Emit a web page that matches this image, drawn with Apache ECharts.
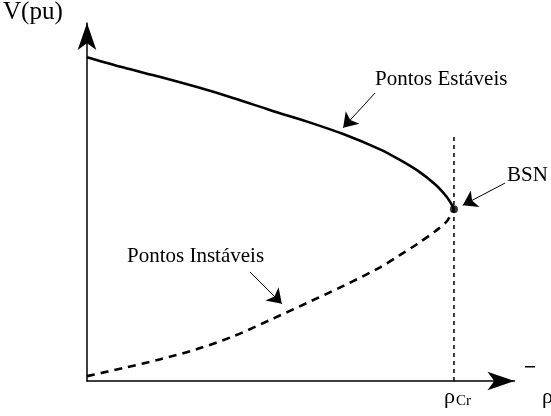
<!DOCTYPE html>
<html>
<head>
<meta charset="utf-8">
<script src="https://cdn.jsdelivr.net/npm/echarts@6/dist/echarts.min.js"></script>
<style>
  html, body { margin: 0; padding: 0; background: #fff; }
  #chart { width: 551px; height: 416px; }
</style>
</head>
<body>
<div id="chart"></div>
<script>
// Load parameter ρ (pu) and bus voltage V (pu) along the PV (nose) curve
const rhoStable   = [0, 0.1, 0.2, 0.3, 0.4, 0.5, 0.6, 0.7, 0.8, 0.85, 0.9, 0.95, 0.98, 0.995, 1.0];
const vStable     = [0.995, 0.963, 0.934, 0.903, 0.869, 0.832, 0.797, 0.758, 0.711, 0.681, 0.647, 0.603, 0.566, 0.540, 0.528];
const rhoUnstable = [0, 0.1, 0.2, 0.3, 0.4, 0.5, 0.6, 0.7, 0.8, 0.85, 0.9, 0.95, 0.98, 1.0];
const vUnstable   = [0.015, 0.040, 0.067, 0.098, 0.138, 0.188, 0.240, 0.293, 0.350, 0.385, 0.421, 0.461, 0.490, 0.528];

// Saddle-node bifurcation (BSN) point and the critical-load marker
const rhoCr = 1.0;
const vCr = 0.528;
const crLineTop = 0.762;

// Annotation arrows: [from, to] in (ρ, V)
const arrowStable   = [[0.785, 0.885], [0.698, 0.778]];
const arrowUnstable = [[0.444, 0.335], [0.531, 0.237]];
const arrowBSN      = [[1.139, 0.608], [1.024, 0.540]];

const SERIF = '"Liberation Serif", "Times New Roman", serif';

const zip = (xs, ys) => xs.map((x, i) => [x, ys[i]]);

const chart = echarts.init(document.getElementById('chart'), null, { renderer: 'canvas' });

const axisLine = {
  show: true,
  symbol: ['none', 'arrow'],
  symbolSize: [14, 27],
  lineStyle: { color: '#000', width: 1.5 }
};

chart.setOption({
  animation: false,
  backgroundColor: '#fff',
  grid: { left: 87, right: 36.5, top: 23, bottom: 35 },
  xAxis: {
    type: 'value', min: 0, max: 1.165,
    axisLine: axisLine,
    axisTick: { show: false }, axisLabel: { show: false }, splitLine: { show: false }
  },
  yAxis: {
    type: 'value', min: 0, max: 1.1,
    axisLine: axisLine,
    axisTick: { show: false }, axisLabel: { show: false }, splitLine: { show: false }
  },
  series: [
    {
      name: 'Pontos Estáveis', type: 'line', data: zip(rhoStable, vStable),
      smooth: 0.3, symbol: 'none',
      lineStyle: { color: '#000', width: 2.6 }
    },
    {
      name: 'Pontos Instáveis', type: 'line', data: zip(rhoUnstable, vUnstable),
      smooth: 0.3, symbol: 'none',
      lineStyle: { color: '#000', width: 2.6, type: [8, 6] }
    },
    {
      name: 'ρCr', type: 'line', data: [[rhoCr, 0], [rhoCr, crLineTop]],
      symbol: 'none',
      lineStyle: { color: '#000', width: 1.5, type: [4, 4] }
    },
    {
      name: 'BSN', type: 'scatter', data: [[rhoCr, vCr]],
      symbolSize: 8, itemStyle: { color: '#000' }, z: 5
    },
    {
      type: 'lines', coordinateSystem: 'cartesian2d',
      symbol: ['none', 'arrow'], symbolSize: [9, 14],
      lineStyle: { color: '#000', width: 1, opacity: 1, curveness: 0 },
      data: [
        { coords: arrowStable },
        { coords: arrowUnstable },
        { coords: arrowBSN }
      ]
    }
  ],
  graphic: [
    { type: 'text', left: 3, top: 0, style: { text: 'V(pu)', font: '25px ' + SERIF, fill: '#000' } },
    { type: 'text', left: 375, top: 69, style: { text: 'Pontos Estáveis', font: '21px ' + SERIF, fill: '#000' } },
    { type: 'text', left: 127, top: 246, style: { text: 'Pontos Instáveis', font: '21px ' + SERIF, fill: '#000' } },
    { type: 'text', left: 507, top: 165, style: { text: 'BSN', font: '21px ' + SERIF, fill: '#000' } },
    { type: 'text', left: 444, top: 386, style: { text: 'ρ', font: '22px ' + SERIF, fill: '#000' } },
    { type: 'text', left: 456, top: 394, style: { text: 'Cr', font: '15px ' + SERIF, fill: '#000' } },
    { type: 'text', left: 542, top: 386, style: { text: 'ρ', font: '22px ' + SERIF, fill: '#000' } },
    { type: 'rect', shape: { x: 525, y: 366, width: 10, height: 1.5 }, style: { fill: '#000' } }
  ]
});
</script>
</body>
</html>
